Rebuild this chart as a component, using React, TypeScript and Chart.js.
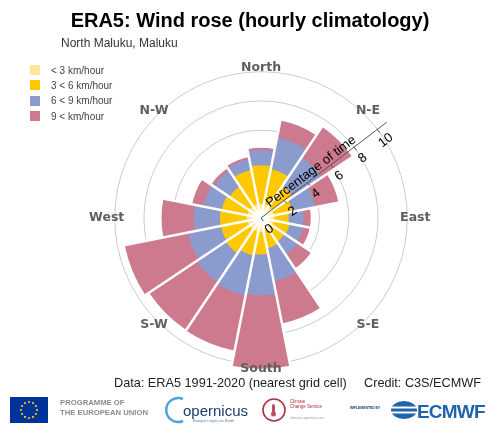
import React, { useEffect, useRef } from "react";
import { Chart, registerables } from "chart.js";

Chart.register(...registerables);

// ---------- data ----------
const directions = ["N", "NNE", "NE", "ENE", "E", "ESE", "SE", "SSE", "S", "SSW", "SW", "WSW", "W", "WNW", "NW", "NNW"];
const speedBins = ["< 3 km/hour", "3 < 6 km/hour", "6 < 9 km/hour", "9 < km/hour"];
const binColors = ["#ffe699", "#ffc800", "#8b9bcd", "#cd7a8e"];
// percentage of time per direction and speed class
const below3 = [0.95, 0.95, 0.9, 0.9, 0.9, 0.9, 0.9, 0.9, 0.95, 0.95, 0.95, 0.95, 0.95, 0.95, 0.95, 0.95];
const from3to6 = [2.65, 2.45, 1.7, 1.3, 1.0, 1.1, 1.05, 1.2, 1.55, 1.65, 1.95, 1.85, 1.85, 1.8, 1.65, 2.4];
const from6to9 = [1.05, 2.2, 2.4, 1.6, 1.0, 0.95, 1.1, 2.3, 2.8, 2.8, 2.4, 2.3, 1.8, 1.25, 1.3, 0.75];
const above9 = [0.15, 1.2, 2.5, 1.6, 0.5, 0.45, 1.1, 2.95, 5.0, 3.85, 3.9, 4.4, 2.2, 0.8, 0.2, 0.15];
const radialTicks = [0, 2, 4, 6, 8, 10];
const radialMax = 10.8;
const compassLabels = ["North", "N-E", "East", "S-E", "South", "S-W", "West", "N-W"];
const axisTitle = "Percentage of time";
const axisAngle = 52.7; // compass degrees of the radial axis

const bins = [below3, from3to6, from6to9, above9];
const cumulative = bins.map((_, i) =>
  directions.map((__, k) => {
    let s = 0;
    for (let j = 0; j <= i; j++) s += bins[j][k];
    return +s.toFixed(3);
  })
);

const overlay = {
  id: "roseOverlay",
  afterDatasetsDraw(chart: any) {
    const s = chart.scales.r;
    const ctx = chart.ctx as CanvasRenderingContext2D;
    const cx = s.xCenter;
    const cy = s.yCenter;
    const px = (v: number) => s.getDistanceFromCenterForValue(v);
    const rad = (deg: number) => ((deg - 90) * Math.PI) / 180;
    const n = directions.length;
    const step = 360 / n;
    const totals = cumulative[cumulative.length - 1];

    // white separators between wedges
    ctx.save();
    ctx.strokeStyle = "#ffffff";
    ctx.lineWidth = 2.5;
    for (let k = 0; k < n; k++) {
      const a = rad(-step / 2 + k * step);
      const r = px(Math.max(totals[k], totals[(k + n - 1) % n])) + 2;
      ctx.beginPath();
      ctx.moveTo(cx, cy);
      ctx.lineTo(cx + r * Math.cos(a), cy + r * Math.sin(a));
      ctx.stroke();
    }
    ctx.restore();

    // radial axis
    const aa = rad(axisAngle);
    const ux = Math.cos(aa), uy = Math.sin(aa);
    const nx = -uy, ny = ux;
    ctx.save();
    ctx.strokeStyle = "#555555";
    ctx.lineWidth = 1;
    ctx.beginPath();
    ctx.moveTo(cx, cy);
    ctx.lineTo(cx + ux * px(radialMax), cy + uy * px(radialMax));
    ctx.stroke();
    ctx.fillStyle = "#000000";
    ctx.font = '13px "Liberation Sans", Arial, sans-serif';
    ctx.textAlign = "center";
    ctx.textBaseline = "middle";
    radialTicks.forEach((v) => {
      const d = px(v);
      const x0 = cx + ux * d, y0 = cy + uy * d;
      ctx.beginPath();
      ctx.moveTo(x0, y0);
      ctx.lineTo(x0 + nx * 4, y0 + ny * 4);
      ctx.stroke();
      ctx.save();
      ctx.translate(x0 + nx * 14, y0 + ny * 14);
      ctx.rotate(aa);
      ctx.fillText(String(v), 0, 0);
      ctx.restore();
    });
    ctx.save();
    ctx.translate(cx + ux * 68 - nx * 3, cy + uy * 68 - ny * 3);
    ctx.rotate(aa);
    ctx.textBaseline = "alphabetic";
    ctx.fillText(axisTitle, 0, 0);
    ctx.restore();
    ctx.restore();

    // compass labels
    ctx.save();
    ctx.fillStyle = "#5f5f5f";
    ctx.font = 'bold 12.5px "DejaVu Sans", sans-serif';
    ctx.textAlign = "center";
    ctx.textBaseline = "middle";
    compassLabels.forEach((lab, i) => {
      const deg = i * 45;
      const sn = Math.sin((deg * Math.PI) / 180);
      const r = px(10) + 4 + 4 * Math.pow(sn, 4);
      const a = rad(deg);
      ctx.fillText(lab, cx + r * Math.cos(a), cy + r * Math.sin(a));
    });
    ctx.restore();
  },
};

const FONT = '"Liberation Sans", Arial, sans-serif';

export default function App() {
  const ref = useRef<HTMLCanvasElement>(null);
  useEffect(() => {
    const chart = new Chart(ref.current as HTMLCanvasElement, {
      type: "polarArea",
      data: {
        labels: directions,
        datasets: cumulative.map((vals, i) => ({
          label: speedBins[i],
          data: vals,
          backgroundColor: binColors[i],
          hoverBackgroundColor: binColors[i],
          borderWidth: 0,
        })),
      },
      options: {
        responsive: false,
        animation: false,
        events: [],
        layout: { padding: { left: 103, right: 75, top: 60, bottom: 48 } },
        plugins: { legend: { display: false }, tooltip: { enabled: false }, title: { display: false } },
        scales: {
          r: {
            min: 0,
            max: radialMax,
            startAngle: -11.25,
            ticks: { display: false, stepSize: 2 },
            grid: {
              color: (c: any) => (c.tick && c.tick.value > 10.01 ? "rgba(0,0,0,0)" : "#cbcbcb"),
              lineWidth: 1,
            },
            angleLines: { display: false },
            pointLabels: { display: false },
          },
        },
      } as any,
      plugins: [overlay],
    });
    return () => chart.destroy();
  }, []);

  const legendTops = [65, 80.3, 95.6, 111];
  return (
    <div style={{ position: "absolute", left: 0, top: 0, width: 494, height: 424, background: "#fff", overflow: "hidden", fontFamily: FONT }}>
      <canvas ref={ref} width={494} height={424} style={{ position: "absolute", left: 0, top: 0, width: 494, height: 424 }} />
      <div style={{ position: "absolute", left: 3, top: 9.8, width: 494, textAlign: "center", fontSize: 20, lineHeight: "20px", fontWeight: "bold", color: "#000", whiteSpace: "nowrap" }}>
        ERA5: Wind rose (hourly climatology)
      </div>
      <div style={{ position: "absolute", left: 61, top: 36.5, fontSize: 12, lineHeight: "12px", color: "#333", whiteSpace: "nowrap" }}>
        North Maluku, Maluku
      </div>
      {speedBins.map((b, i) => (
        <React.Fragment key={b}>
          <div style={{ position: "absolute", left: 30, top: legendTops[i], width: 10, height: 10, background: binColors[i] }} />
          <div style={{ position: "absolute", left: 51, top: legendTops[i] + 0.5, fontSize: 10, lineHeight: "10px", color: "#444", whiteSpace: "nowrap" }}>{b}</div>
        </React.Fragment>
      ))}
      <div style={{ position: "absolute", left: 114, top: 377, fontSize: 12.7, lineHeight: "12.7px", color: "#222", whiteSpace: "nowrap" }}>
        Data: ERA5 1991-2020 (nearest grid cell)
      </div>
      <div style={{ position: "absolute", left: 364, top: 377, fontSize: 12.7, lineHeight: "12.7px", color: "#222", whiteSpace: "nowrap" }}>
        Credit: C3S/ECMWF
      </div>
      <svg width={494} height={34} viewBox="0 390 494 34" style={{ position: "absolute", left: 0, top: 390 }}>
        <rect x={10} y={397} width={38} height={26} fill="#003399" />
        {Array.from({ length: 12 }).map((_, i) => {
          const a = (i * 30 * Math.PI) / 180;
          return <circle key={i} cx={29 + 8 * Math.cos(a)} cy={410 + 8 * Math.sin(a)} r={1.1} fill="#ffcc00" />;
        })}
        <text x={60} y={405} fontFamily={FONT} fontWeight="bold" fontSize={7.7} fill="#8c8c8c">PROGRAMME OF</text>
        <text x={60} y={415} fontFamily={FONT} fontWeight="bold" fontSize={7.7} fill="#8c8c8c">THE EUROPEAN UNION</text>
        <path d="M 183 399 A 12 12 0 1 0 183 421" fill="none" stroke="#4fa3dc" strokeWidth={2.5} />
        <text x={183} y={416} fontFamily={FONT} fontSize={15} fill="#1d3b6e">opernicus</text>
        <text x={193} y={422} fontFamily={FONT} fontSize={4} fill="#4a7fb5">Europe's eyes on Earth</text>
        <circle cx={274} cy={410} r={11} fill="none" stroke="#b03040" strokeWidth={1.6} />
        <rect x={272} y={404} width={3} height={9} rx={1.5} fill="#c05060" />
        <circle cx={273.5} cy={414} r={2.5} fill="#c05060" />
        <text x={290} y={403} fontFamily={FONT} fontSize={4.5} fill="#b03040">Climate</text>
        <text x={290} y={408} fontFamily={FONT} fontSize={4.5} fill="#b03040">Change Service</text>
        <text x={290} y={419} fontFamily={FONT} fontSize={3.5} fill="#999">climate.copernicus.eu</text>
        <text x={350} y={409} fontFamily={FONT} fontWeight="bold" fontSize={3.4} fill="#1d3b6e">IMPLEMENTED BY</text>
        <ellipse cx={404} cy={410} rx={13} ry={9} fill="#1f63ad" />
        <rect x={391} y={406.5} width={26} height={2} fill="#fff" />
        <rect x={391} y={411.5} width={26} height={2} fill="#fff" />
        <text x={417} y={418} fontFamily={FONT} fontWeight="bold" fontSize={19} letterSpacing={-0.8} fill="#1f63ad">ECMWF</text>
      </svg>
    </div>
  );
}
